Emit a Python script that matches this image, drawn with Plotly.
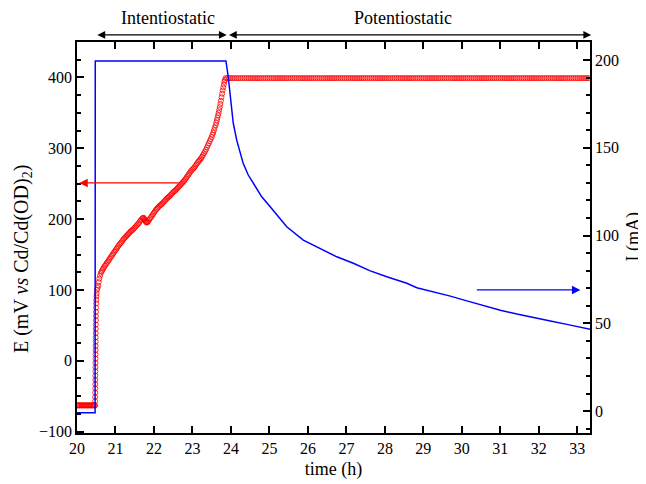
import plotly.graph_objects as go

# Electrode potential (left axis)
e_time = [
    20.00, 20.02, 20.04, 20.06, 20.08, 20.10, 20.12, 20.14, 20.16, 20.18, 20.20, 20.22,
    20.24, 20.26, 20.28, 20.30, 20.32, 20.34, 20.36, 20.38, 20.40, 20.42, 20.44, 20.46,
    20.470, 20.471, 20.472, 20.473, 20.474, 20.475, 20.476, 20.477, 20.478, 20.479,
    20.480, 20.481, 20.482, 20.483, 20.484, 20.485, 20.486, 20.487, 20.488, 20.489,
    20.490, 20.492, 20.494, 20.496, 20.498, 20.502, 20.506, 20.51,
    20.52, 20.535, 20.55, 20.565, 20.58, 20.60, 20.62, 20.64, 20.66, 20.68, 20.70,
    20.725, 20.75, 20.775, 20.80, 20.825, 20.85, 20.875, 20.90, 20.925, 20.95, 20.975,
    21.00, 21.025, 21.05, 21.075, 21.10, 21.125, 21.15, 21.175, 21.20, 21.225, 21.25,
    21.275, 21.30, 21.325, 21.35, 21.375, 21.40, 21.425, 21.45, 21.475, 21.50, 21.525,
    21.55, 21.575, 21.60, 21.625, 21.65, 21.675, 21.70, 21.715, 21.73, 21.745, 21.76,
    21.775, 21.79, 21.805, 21.82, 21.835, 21.85, 21.875, 21.90, 21.925, 21.95, 21.975,
    22.00, 22.025, 22.05, 22.075, 22.10, 22.125, 22.15, 22.175, 22.20, 22.225, 22.25,
    22.275, 22.30, 22.325, 22.35, 22.375, 22.40, 22.425, 22.45, 22.475, 22.50, 22.525,
    22.55, 22.575, 22.60, 22.625, 22.65, 22.675, 22.70, 22.725, 22.75, 22.775, 22.80,
    22.825, 22.85, 22.875, 22.90, 22.925, 22.95, 22.975, 23.00, 23.025, 23.05, 23.075,
    23.10, 23.125, 23.15, 23.175, 23.20, 23.225, 23.25, 23.275, 23.30, 23.325, 23.35,
    23.375, 23.40, 23.425, 23.45, 23.475, 23.50, 23.52, 23.54, 23.56, 23.58, 23.60,
    23.62, 23.635, 23.65, 23.665, 23.68, 23.695, 23.71, 23.725, 23.74, 23.755, 23.77,
    23.785, 23.80, 23.815, 23.83, 23.845, 23.86,
    23.90, 23.95, 24.00, 24.05, 24.10, 24.15, 24.20, 24.25, 24.30, 24.35,
    24.40, 24.45, 24.50, 24.55, 24.60, 24.65, 24.70, 24.75, 24.80, 24.85,
    24.90, 24.95, 25.00, 25.05, 25.10, 25.15, 25.20, 25.25, 25.30, 25.35,
    25.40, 25.45, 25.50, 25.55, 25.60, 25.65, 25.70, 25.75, 25.80, 25.85,
    25.90, 25.95, 26.00, 26.05, 26.10, 26.15, 26.20, 26.25, 26.30, 26.35,
    26.40, 26.45, 26.50, 26.55, 26.60, 26.65, 26.70, 26.75, 26.80, 26.85,
    26.90, 26.95, 27.00, 27.05, 27.10, 27.15, 27.20, 27.25, 27.30, 27.35,
    27.40, 27.45, 27.50, 27.55, 27.60, 27.65, 27.70, 27.75, 27.80, 27.85,
    27.90, 27.95, 28.00, 28.05, 28.10, 28.15, 28.20, 28.25, 28.30, 28.35,
    28.40, 28.45, 28.50, 28.55, 28.60, 28.65, 28.70, 28.75, 28.80, 28.85,
    28.90, 28.95, 29.00, 29.05, 29.10, 29.15, 29.20, 29.25, 29.30, 29.35,
    29.40, 29.45, 29.50, 29.55, 29.60, 29.65, 29.70, 29.75, 29.80, 29.85,
    29.90, 29.95, 30.00, 30.05, 30.10, 30.15, 30.20, 30.25, 30.30, 30.35,
    30.40, 30.45, 30.50, 30.55, 30.60, 30.65, 30.70, 30.75, 30.80, 30.85,
    30.90, 30.95, 31.00, 31.05, 31.10, 31.15, 31.20, 31.25, 31.30, 31.35,
    31.40, 31.45, 31.50, 31.55, 31.60, 31.65, 31.70, 31.75, 31.80, 31.85,
    31.90, 31.95, 32.00, 32.05, 32.10, 32.15, 32.20, 32.25, 32.30, 32.35,
    32.40, 32.45, 32.50, 32.55, 32.60, 32.65, 32.70, 32.75, 32.80, 32.85,
    32.90, 32.95, 33.00, 33.05, 33.10, 33.15, 33.20, 33.25, 33.30,
]
e_mv = [
    -63, -63, -63, -63, -63, -63, -63, -63, -63, -63, -63, -63,
    -63, -63, -63, -63, -63, -63, -63, -63, -63, -63, -63, -63,
    -63, -57, -51, -45, -39, -33, -27, -21, -15, -9,
    -3, 3, 9, 15, 21, 27, 33, 39, 45, 51,
    57, 63, 69, 75, 81, 86, 91, 95,
    100, 103, 106, 111, 116, 120, 124, 126, 128, 130, 132,
    134, 136, 138, 140, 142, 144, 146, 148, 150, 152, 154,
    156, 158, 160, 162, 164, 165.5, 167, 169, 171, 172.5, 174,
    175.5, 177, 178.5, 180, 181.5, 183, 184, 185, 186.5, 188, 189.5,
    191, 192.5, 194, 196, 198, 199.5, 201, 201.5, 202, 200.5, 199,
    197.5, 196, 195.5, 195, 196, 197, 199, 201, 203, 205, 207,
    209, 211, 213, 214.5, 216, 217.5, 219, 220, 221, 222.5, 224,
    225.5, 227, 228.5, 230, 231, 232, 233.5, 235, 236.5, 238, 239,
    240, 241.5, 243, 244.5, 246, 247.5, 249, 250.5, 252, 253.5, 255,
    257, 259, 261, 263, 265, 267, 268.5, 270, 271.5, 273, 275,
    277, 279, 281, 282.5, 284, 286, 288, 290.5, 293, 295.5, 298,
    301, 304, 307, 310, 313, 316, 319, 322, 325.5, 329, 332.5,
    336, 339.5, 343, 346.5, 350, 354, 358, 362.5, 367, 372, 377,
    381.5, 386, 390, 394, 396.5, 399,
    399, 399, 399, 399, 399, 399, 399, 399, 399, 399,
    399, 399, 399, 399, 399, 399, 399, 399, 399, 399,
    399, 399, 399, 399, 399, 399, 399, 399, 399, 399,
    399, 399, 399, 399, 399, 399, 399, 399, 399, 399,
    399, 399, 399, 399, 399, 399, 399, 399, 399, 399,
    399, 399, 399, 399, 399, 399, 399, 399, 399, 399,
    399, 399, 399, 399, 399, 399, 399, 399, 399, 399,
    399, 399, 399, 399, 399, 399, 399, 399, 399, 399,
    399, 399, 399, 399, 399, 399, 399, 399, 399, 399,
    399, 399, 399, 399, 399, 399, 399, 399, 399, 399,
    399, 399, 399, 399, 399, 399, 399, 399, 399, 399,
    399, 399, 399, 399, 399, 399, 399, 399, 399, 399,
    399, 399, 399, 399, 399, 399, 399, 399, 399, 399,
    399, 399, 399, 399, 399, 399, 399, 399, 399, 399,
    399, 399, 399, 399, 399, 399, 399, 399, 399, 399,
    399, 399, 399, 399, 399, 399, 399, 399, 399, 399,
    399, 399, 399, 399, 399, 399, 399, 399, 399, 399,
    399, 399, 399, 399, 399, 399, 399, 399, 399, 399,
    399, 399, 399, 399, 399, 399, 399, 399, 399,
]

# Cell current (right axis), blue line
i_time = [20.0, 20.47, 20.475, 23.87, 23.93, 23.98, 24.06, 24.15, 24.24, 24.32,
          24.45, 24.58, 24.80, 25.02, 25.23, 25.45, 25.88, 26.32, 26.75, 27.18,
          27.62, 28.05, 28.40, 28.57, 28.83, 29.26, 29.70, 30.13, 30.56, 31.0,
          31.43, 31.86, 32.30, 32.73, 33.1, 33.34]
i_ma = [-1, -1, 199.5, 199.5, 190.5, 181, 164, 154.4, 146.8, 141,
        134.5, 129.7, 122.1, 116.4, 110.7, 105, 97.4, 92.7, 87.9, 84.2,
        79.9, 76.5, 74.2, 72.8, 70.3, 68.0, 65.5, 62.8, 60.0, 57.5,
        55.3, 53.2, 51.3, 49.4, 47.8, 46.6]

font = "Liberation Serif, Times New Roman, serif"

fig = go.Figure()
fig.add_trace(go.Scatter(
    x=e_time, y=e_mv, mode="markers", yaxis="y",
    marker=dict(symbol="circle-open", size=5, color="#ff0000", line=dict(width=0.8)),
    showlegend=False,
))
fig.add_trace(go.Scatter(
    x=i_time, y=i_ma, mode="lines", yaxis="y2",
    line=dict(color="#0000ff", width=1.5),
    showlegend=False,
))

axis_common = dict(
    showline=True, linecolor="black", linewidth=1.5, ticks="inside",
    tickcolor="black", tickwidth=1.5, ticklen=7, showgrid=False, zeroline=False,
    automargin=False, tickfont=dict(family=font, size=16, color="black"),
)

# page body adds an 8px offset, so the figure is 8px smaller than the window
fig.update_layout(
    width=638, height=476,
    margin=dict(l=69, r=56, t=34, b=51),
    paper_bgcolor="white", plot_bgcolor="white",
    font=dict(family=font, color="black"),
    xaxis=dict(
        **axis_common, range=[20, 33.33], dtick=1, mirror="ticks",
        title=dict(text="time (h)", font=dict(family=font, size=18), standoff=6),
    ),
    yaxis=dict(
        **axis_common, range=[-102, 450], tickvals=[-100, 0, 100, 200, 300, 400],
        minor=dict(dtick=25, ticks="inside", ticklen=4, tickcolor="black", tickwidth=1.5),
    ),
    yaxis2=dict(
        **axis_common, range=[-12.5, 210.3], tickvals=[0, 50, 100, 150, 200],
        overlaying="y", side="right",
        minor=dict(dtick=10, ticks="inside", ticklen=4, tickcolor="black", tickwidth=1.5),
    ),
)

# Axis titles on the sides placed as rotated text
fig.add_annotation(
    x=0.0, y=0.445, xref="paper", yref="paper", xanchor="center", yanchor="middle",
    xshift=-55, text="E (mV <i>vs</i> Cd/Cd(OD)<sub>2</sub>)", textangle=-90,
    showarrow=False, font=dict(family=font, size=20, color="black"),
)
fig.add_annotation(
    x=1.0, y=0.5, xref="paper", yref="paper", xanchor="center", xshift=43,
    text="I (mA)", textangle=-90, showarrow=False,
    font=dict(family=font, size=18, color="black"),
)

# Regime labels with double arrows above the plot
for label, t0, t1, tc in [("Intentiostatic", 20.49, 23.89, 22.37),
                          ("Potentiostatic", 23.91, 33.36, 28.48)]:
    fig.add_annotation(
        x=t1, y=1.018, xref="x", yref="paper", ax=t0, ay=0, axref="x", ayref="pixel",
        text="", showarrow=True, arrowhead=2, arrowside="end+start",
        arrowsize=1.3, arrowwidth=1.2, arrowcolor="black",
    )
    fig.add_annotation(
        x=tc, y=1.061, xref="x", yref="paper", yanchor="middle", text=label,
        showarrow=False, font=dict(family=font, size=18, color="black"),
    )

# Arrows pointing each curve to its axis
fig.add_annotation(
    x=20.06, y=251, xref="x", yref="y", ax=22.68, ay=0, axref="x", ayref="pixel",
    text="", showarrow=True, arrowhead=2, arrowsize=1.3, arrowwidth=1.3,
    arrowcolor="#ff0000",
)
fig.add_annotation(
    x=33.08, y=69, xref="x", yref="y2", ax=30.35, ay=0, axref="x", ayref="pixel",
    text="", showarrow=True, arrowhead=2, arrowsize=1.3, arrowwidth=1.3,
    arrowcolor="#0000ff",
)

fig.write_html("out.html")
